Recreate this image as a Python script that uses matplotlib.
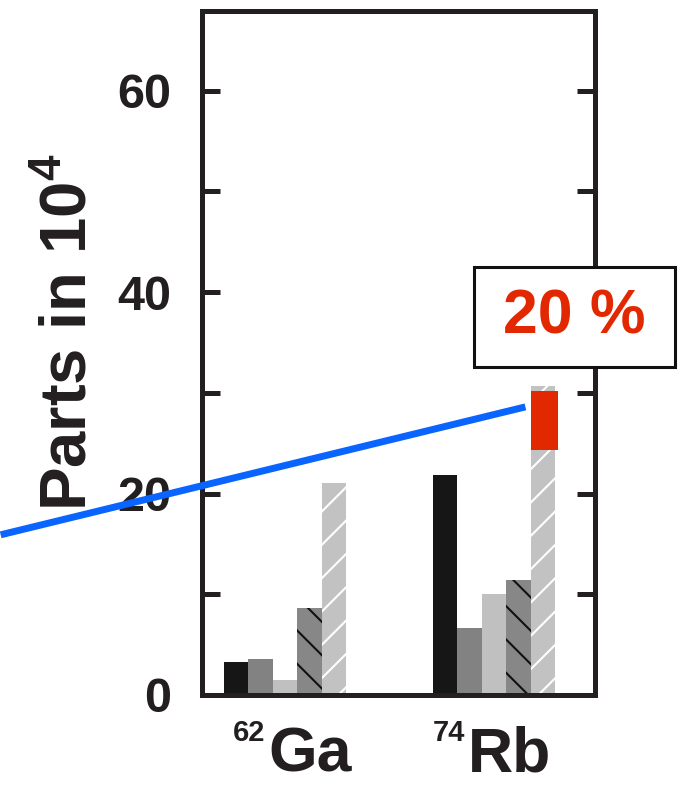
import numpy as np
import matplotlib
matplotlib.use("Agg")
import matplotlib.pyplot as plt
from matplotlib.patches import Rectangle

plt.rcParams["font.family"] = ["Liberation Sans", "DejaVu Sans"]
plt.rcParams["font.weight"] = "bold"
plt.rcParams["mathtext.fontset"] = "custom"
plt.rcParams["mathtext.rm"] = "Liberation Sans:bold"
plt.rcParams["mathtext.bf"] = "Liberation Sans:bold"
plt.rcParams["hatch.linewidth"] = 1.5

# data
nuclei = ["Ga", "Rb"]
mass_numbers = ["62", "74"]
series_black = [3.3, 21.8]
series_dark = [3.6, 6.6]
series_light = [1.5, 10.0]
series_dark_hatch = [8.6, 11.4]
series_light_hatch = [21.0, 30.7]
red_range = [24.3, 30.2]  # red part on the Rb light hatched bar
line_x = [-1.36, 1.15]
line_y = [15.9, 28.6]
box_text = "20 %"

ink = "#231f20"
fig = plt.figure(figsize=(6.84, 7.86), dpi=100)
ax = fig.add_axes([0.2953, 0.1158, 0.5746, 0.8702])

x = np.arange(len(nuclei))
w = 0.117
offs = np.array([-2, -1, 0, 1, 2]) * w

ax.bar(x + offs[0], series_black, w, color="#161616", linewidth=0)
ax.bar(x + offs[1], series_dark, w, color="#828282", linewidth=0)
ax.bar(x + offs[2], series_light, w, color="#c0c0c0", linewidth=0)
ax.bar(x + offs[3], series_dark_hatch, w, color="#878787", edgecolor="#111111",
       hatch="\\", linewidth=0)
ax.bar(x + offs[4], series_light_hatch, w, color="#c2c2c2", edgecolor="white",
       hatch="/", linewidth=0)
ax.bar(x[1] + offs[4] + 0.008, red_range[1] - red_range[0], w * 1.08,
       bottom=red_range[0], color="#e22800", linewidth=0, zorder=3)

ax.plot(line_x, line_y, color="#0a64ff", lw=5, clip_on=False, zorder=4,
        solid_capstyle="butt")

ax.set_xlim(-0.397, 1.483)
ax.set_ylim(0, 67.9)

for s in ax.spines.values():
    s.set_linewidth(3.6)
    s.set_color(ink)

ax.set_xticks([])
ax.set_yticks(np.arange(0, 70, 10))
ax.set_yticklabels([str(v) if v % 20 == 0 else "" for v in range(0, 70, 10)],
                   fontsize=35, fontweight="bold", color=ink)
ax.tick_params(axis="y", direction="in", length=13, width=3.6, color=ink,
               right=True, pad=22)

ax.set_ylabel(r"Parts in 10$^\mathbf{4}$", fontsize=47, fontweight="bold",
              color=ink)
ax.yaxis.set_label_coords(-0.263, 0.53)

# x group labels with mass-number superscripts
name_off = [-0.081, -0.124]
sup_off = [-0.094, -0.137]
for xi, name, mnum, no, so in zip(x, nuclei, mass_numbers, name_off, sup_off):
    ax.text(xi + no, -0.112, name, transform=ax.get_xaxis_transform(),
            fontsize=45, fontweight="bold", color=ink, ha="left",
            va="baseline", clip_on=False)
    ax.text(xi + so, -0.068, mnum, transform=ax.get_xaxis_transform(),
            fontsize=21, fontweight="bold", color=ink, ha="right",
            va="baseline", clip_on=False)

# annotation box
rect = Rectangle((0.904, 32.6), 0.962, 9.9, facecolor="white",
                 edgecolor="#111111", lw=2.2, clip_on=False, zorder=5)
ax.add_patch(rect)
ax.text(1.385, 37.5, box_text, fontsize=45, fontweight="bold",
        color="#e22800", ha="center", va="center", zorder=6, clip_on=False)

fig.savefig("out.png", dpi=100)
